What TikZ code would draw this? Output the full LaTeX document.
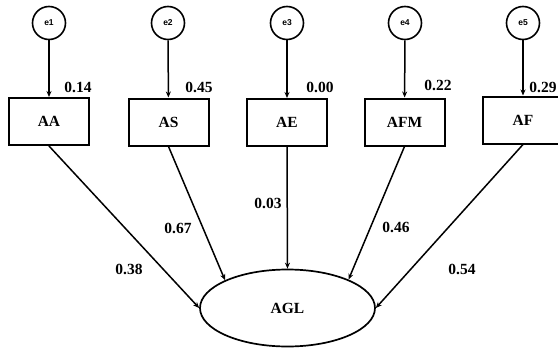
\documentclass[tikz,border=0pt]{standalone}
\usepackage{fontspec}
\setmainfont{Liberation Serif}
\newfontfamily\efont{Liberation Sans}
\usetikzlibrary{arrows.meta,shapes.geometric}
\begin{document}
\begin{tikzpicture}[x=1pt,y=-1pt,
  errc/.style={circle,draw,line width=1.6pt,minimum size=33pt,inner sep=0pt,font=\efont\bfseries\fontsize{8.5}{10}\selectfont},
  obsbox/.style={rectangle,draw,line width=2pt,minimum width=80pt,minimum height=47pt,inner sep=0pt,font=\bfseries\fontsize{15.5}{17}\selectfont},
  latent/.style={ellipse,draw,line width=1.7pt,minimum width=175pt,minimum height=77pt,inner sep=0pt,font=\bfseries\fontsize{15.5}{17}\selectfont},
  path/.style={line width=1.5pt,-{Stealth[length=6pt,width=5pt]}},
  lbl/.style={font=\bfseries\fontsize{15.5}{17}\selectfont,inner sep=0pt}]
\useasboundingbox (0,0) rectangle (558,348);
\foreach \n/\x in {1/49,2/168,3/287,4/405,5/523}{
  \node[errc] (e\n) at (\x,23) {e\n};
}
\node[obsbox] (aa) at (49,121.5) {AA};
\node[obsbox] (as) at (168.5,122) {AS};
\node[obsbox] (ae) at (287,122.5) {AE};
\node[obsbox] (afm) at (404.5,122) {AFM};
\node[obsbox] (af) at (523,120) {AF};
\node[latent] (agl) at (287.5,308) {AGL};
\draw[path] (e1) -- (aa);
\draw[path] (e2) -- (as);
\draw[path] (e3) -- (ae);
\draw[path] (e4) -- (afm);
\draw[path] (e5) -- (af);
\draw[path] (aa.south) -- (agl.180);
\draw[path] (as.south) -- (agl.156);
\draw[path] (ae.south) -- (agl.90);
\draw[path] (afm.south) -- (agl.25);
\draw[path] (af.south) -- (agl.0);
\node[lbl] (l1) at (78,87) {0.14};
\node[lbl] (l2) at (199,87) {0.45};
\node[lbl] (l3) at (320,87) {0.00};
\node[lbl] (l4) at (438,85) {0.22};
\node[lbl] (l5) at (543,87) {0.29};
\node[lbl] (m1) at (129,269) {0.38};
\node[lbl] (m2) at (178,228) {0.67};
\node[lbl] (m3) at (268,203) {0.03};
\node[lbl] (m4) at (396,227) {0.46};
\node[lbl] (m5) at (462,269) {0.54};
\end{tikzpicture}
\end{document}
